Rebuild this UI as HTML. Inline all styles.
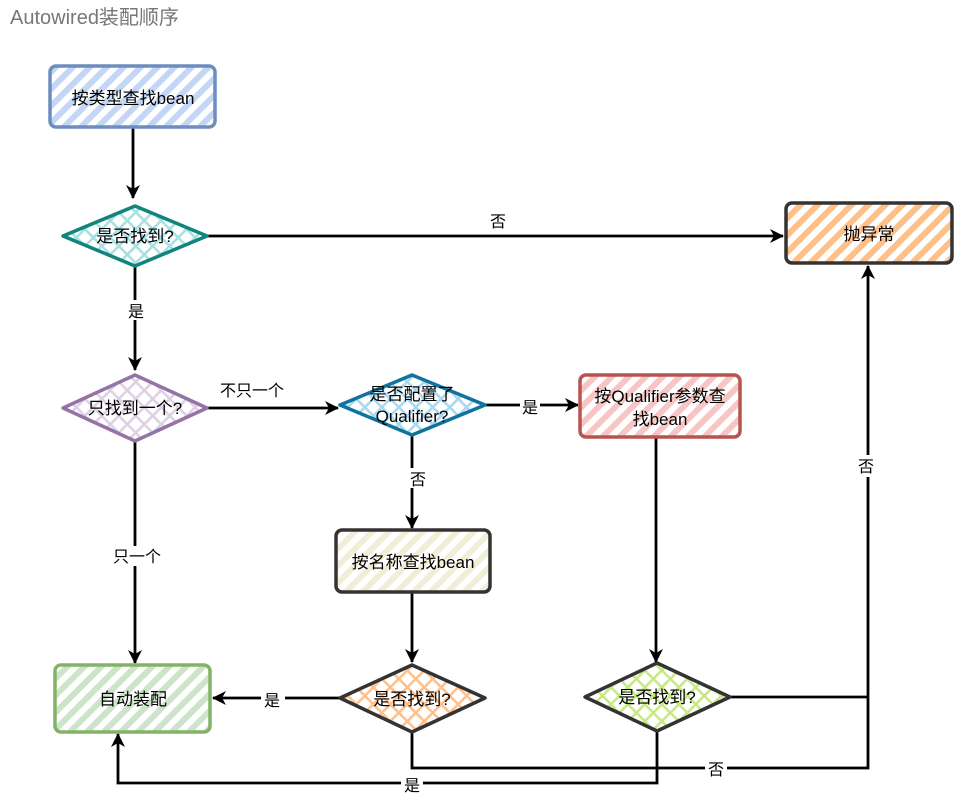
<!DOCTYPE html>
<html><head><meta charset="utf-8"><style>
html,body{margin:0;padding:0;background:#fff;width:968px;height:798px;overflow:hidden}
svg text{font-family:"Liberation Sans","Noto Sans CJK SC",sans-serif}
</style></head><body>
<svg width="968" height="798" viewBox="0 0 968 798" xmlns="http://www.w3.org/2000/svg">
<defs>
<pattern id="pb" width="12" height="12" patternUnits="userSpaceOnUse" patternTransform="rotate(45)"><rect width="6" height="12" fill="#c3d6f5"/></pattern>
<pattern id="po" width="12" height="12" patternUnits="userSpaceOnUse" patternTransform="rotate(45)"><rect width="6" height="12" fill="#ffbf88"/></pattern>
<pattern id="pr" width="12" height="12" patternUnits="userSpaceOnUse" patternTransform="rotate(45)"><rect width="6" height="12" fill="#f7c6c4"/></pattern>
<pattern id="py" width="12" height="12" patternUnits="userSpaceOnUse" patternTransform="rotate(45)"><rect width="6" height="12" fill="#f1eed8"/></pattern>
<pattern id="pg" width="12" height="12" patternUnits="userSpaceOnUse" patternTransform="rotate(45)"><rect width="6" height="12" fill="#cde4cb"/></pattern>
<pattern id="xt" width="12" height="12" patternUnits="userSpaceOnUse" patternTransform="rotate(45)"><path d="M0 6H12M6 0V12" stroke="#a6dfe2" stroke-width="2.5"/></pattern>
<pattern id="xp" width="12" height="12" patternUnits="userSpaceOnUse" patternTransform="rotate(45)"><path d="M0 6H12M6 0V12" stroke="#ddd0e4" stroke-width="2.5"/></pattern>
<pattern id="xb" width="12" height="12" patternUnits="userSpaceOnUse" patternTransform="rotate(45)"><path d="M0 6H12M6 0V12" stroke="#a8d8ee" stroke-width="2.5"/></pattern>
<pattern id="xo" width="12" height="12" patternUnits="userSpaceOnUse" patternTransform="rotate(45)"><path d="M0 6H12M6 0V12" stroke="#ffbf88" stroke-width="2.5"/></pattern>
<pattern id="xg" width="12" height="12" patternUnits="userSpaceOnUse" patternTransform="rotate(45)"><path d="M0 6H12M6 0V12" stroke="#c6e882" stroke-width="2.5"/></pattern>
<marker id="a2" markerWidth="14" markerHeight="14" refX="13" refY="7" orient="auto" markerUnits="userSpaceOnUse"><path d="M0 0L14 7L0 14L4 7Z" fill="#000"/></marker>
</defs>
<text x="10" y="24" font-size="20" fill="#777">Autowired装配顺序</text>

<g stroke="#000" stroke-width="2.8" fill="none">
<path d="M133 127V198" marker-end="url(#a2)"/>
<path d="M207 236H783" marker-end="url(#a2)"/>
<path d="M135 266V370" marker-end="url(#a2)"/>
<path d="M207 408H338" marker-end="url(#a2)"/>
<path d="M485 405H578" marker-end="url(#a2)"/>
<path d="M412 435V528" marker-end="url(#a2)"/>
<path d="M412 592V662" marker-end="url(#a2)"/>
<path d="M340 698H213" marker-end="url(#a2)"/>
<path d="M135 440V663" marker-end="url(#a2)"/>
<path d="M656 437V662" marker-end="url(#a2)"/>
<path d="M730 697H868"/>
<path d="M412 732V768H868V266" marker-end="url(#a2)"/>
<path d="M657 730V783H118V734" marker-end="url(#a2)"/>
</g>
<g font-size="16" text-anchor="middle" fill="#000">
<rect x="488" y="210" width="20" height="20" fill="#fff"/><text x="498" y="227">否</text>
<rect x="126" y="300" width="20" height="20" fill="#fff"/><text x="136" y="317">是</text>
<text x="252" y="396">不只一个</text>
<rect x="520" y="397" width="20" height="18" fill="#fff"/><text x="530" y="413">是</text>
<rect x="407" y="468" width="22" height="20" fill="#fff"/><text x="418" y="485">否</text>
<rect x="104" y="546" width="64" height="20" fill="#fff"/><text x="137" y="562">只一个</text>
<rect x="261" y="690" width="24" height="20" fill="#fff"/><text x="272" y="706">是</text>
<rect x="855" y="455" width="22" height="22" fill="#fff"/><text x="866" y="472">否</text>
<rect x="705" y="758" width="22" height="20" fill="#fff"/><text x="716" y="775">否</text>
<rect x="401" y="775" width="22" height="20" fill="#fff"/><text x="412" y="791">是</text>
</g>

<rect x="50" y="66" width="165" height="61" rx="6" fill="url(#pb)" stroke="#6c8ebf" stroke-width="3.5"/>
<rect x="786" y="203" width="166" height="60" rx="6" fill="url(#po)" stroke="#333" stroke-width="3.5"/>
<rect x="580" y="375" width="160" height="62" rx="6" fill="url(#pr)" stroke="#b85450" stroke-width="3.5"/>
<rect x="336" y="530" width="154" height="62" rx="6" fill="url(#py)" stroke="#333" stroke-width="3.5"/>
<rect x="55" y="665" width="155" height="67" rx="6" fill="url(#pg)" stroke="#82b366" stroke-width="3.5"/>
<path d="M135 206L207 236L135 266L63 236Z" fill="url(#xt)" stroke="#12847e" stroke-width="3.5" stroke-linejoin="round"/>
<path d="M135 375L207 408L135 441L63 408Z" fill="url(#xp)" stroke="#9673a6" stroke-width="3.5" stroke-linejoin="round"/>
<path d="M412 375L485 405L412 435L340 405Z" fill="url(#xb)" stroke="#10739e" stroke-width="3.5" stroke-linejoin="round"/>
<path d="M412 665L485 698L412 732L340 698Z" fill="url(#xo)" stroke="#333" stroke-width="3.5" stroke-linejoin="round"/>
<path d="M657 663L730 697L657 731L585 697Z" fill="url(#xg)" stroke="#333" stroke-width="3.5" stroke-linejoin="round"/>

<g font-size="17" text-anchor="middle" fill="#000">
<text x="133" y="104">按类型查找bean</text>
<text x="869" y="240">抛异常</text>
<text x="135" y="242">是否找到?</text>
<text x="135" y="414">只找到一个?</text>
<text x="412" y="400">是否配置了</text>
<text x="412" y="422">Qualifier?</text>
<text x="660" y="402">按Qualifier参数查</text>
<text x="660" y="425">找bean</text>
<text x="413" y="568">按名称查找bean</text>
<text x="412" y="705">是否找到?</text>
<text x="657" y="703">是否找到?</text>
<text x="133" y="705">自动装配</text>
</g>
</svg>
</body></html>
